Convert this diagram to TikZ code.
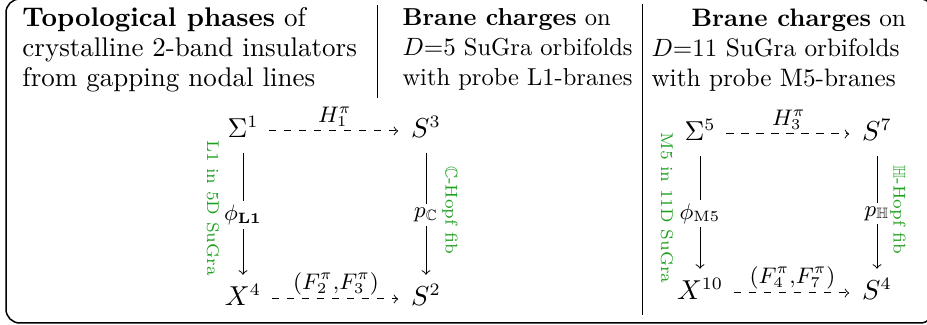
\documentclass[tikz,border=0pt]{standalone}
\usepackage{amssymb}
\definecolor{fibgreen}{RGB}{30,160,30}
\tikzset{
  space/.style={inner sep=2pt,text height=7pt,text depth=2pt,font=\fontsize{10.5}{12}\selectfont},
  maplabel/.style={inner sep=1.5pt,font=\fontsize{9}{10}\selectfont},
  maparrow/.style={->,shorten <=2pt,shorten >=3pt},
  branelabel/.style={text=fibgreen,rotate=-90,inner sep=0pt,font=\fontsize{6.8}{8}\selectfont},
  coltext/.style={inner sep=0pt,anchor=north west,align=left}
}
\begin{document}
\begin{tikzpicture}[x=0.4pt,y=-0.4pt]
  \useasboundingbox (0,0) rectangle (927,325);
  \begin{scope}
    \clip (0,0) rectangle (927,325);
    \draw[line width=0.6pt,rounded corners=5.5pt] (6,-1) rectangle (934,323);
  \end{scope}
  \draw[line width=0.4pt] (377,5) -- (377,98);
  \draw[line width=0.4pt] (642,4) -- (642,315);

  % column headers
  \node[coltext,font=\fontsize{10.8}{12}\selectfont] (topo) at (22,6.5)
    {\textbf{Topological phases} of\\crystalline 2-band insulators\\from gapping nodal lines};
  \node[coltext,font=\fontsize{9.8}{12}\selectfont] (branesL) at (402,8.5)
    {\textbf{Brane charges} on\\$D{=}5$ SuGra orbifolds\\with probe L1-branes};
  \node[coltext,font=\fontsize{10.1}{12}\selectfont] (branesM) at (651,8.5)
    {\hspace*{16pt}\textbf{Brane charges} on\\$D{=}11$ SuGra orbifolds\\with probe M5-branes};

  % L1-branes square
  \node[space] (Sigma1) at (243,131) {$\Sigma^1$};
  \node[space] (S3) at (426,131) {$S^3$};
  \node[space] (X4) at (243,299) {$X^4$};
  \node[space] (S2) at (426,299) {$S^2$};
  \draw[maparrow,dashed] (Sigma1) -- node[maplabel,above] {$H_1^\pi$} (S3);
  \draw[maparrow,dashed] (X4) -- node[maplabel,above] {$(F_2^\pi{,}F_3^\pi)$} (S2);
  \draw[maparrow] (Sigma1) -- node[maplabel,fill=white] {$\phi_{\mathbf{L1}}$} (X4);
  \draw[maparrow] (S3) -- node[maplabel,fill=white] {$p_{\mathbb{C}}$} (S2);
  \node[branelabel] (L1sugra) at (213,208) {L1 in 5D SuGra};
  \node[branelabel] (Chopf) at (450,210) {$\mathbb{C}$-Hopf fib};

  % M5-branes square
  \node[space] (Sigma5) at (700,134) {$\Sigma^5$};
  \node[space] (S7) at (877,134) {$S^7$};
  \node[space] (X10) at (700,293) {$X^{10}$};
  \node[space] (S4) at (877,293) {$S^4$};
  \draw[maparrow,dashed] (Sigma5) -- node[maplabel,above] {$H_3^\pi$} (S7);
  \draw[maparrow,dashed] (X10) -- node[maplabel,above] {$(F_4^\pi{,}F_7^\pi)$} (S4);
  \draw[maparrow] (Sigma5) -- node[maplabel,fill=white] {$\phi_{\mathrm{M5}}$} (X10);
  \draw[maparrow] (S7) -- node[maplabel,fill=white] {$p_{\mathbb{H}}$} (S4);
  \node[branelabel] (M5sugra) at (667,208) {M5 in 11D SuGra};
  \node[branelabel] (Hhopf) at (898,210) {$\mathbb{H}$-Hopf fib};
\end{tikzpicture}
\end{document}
